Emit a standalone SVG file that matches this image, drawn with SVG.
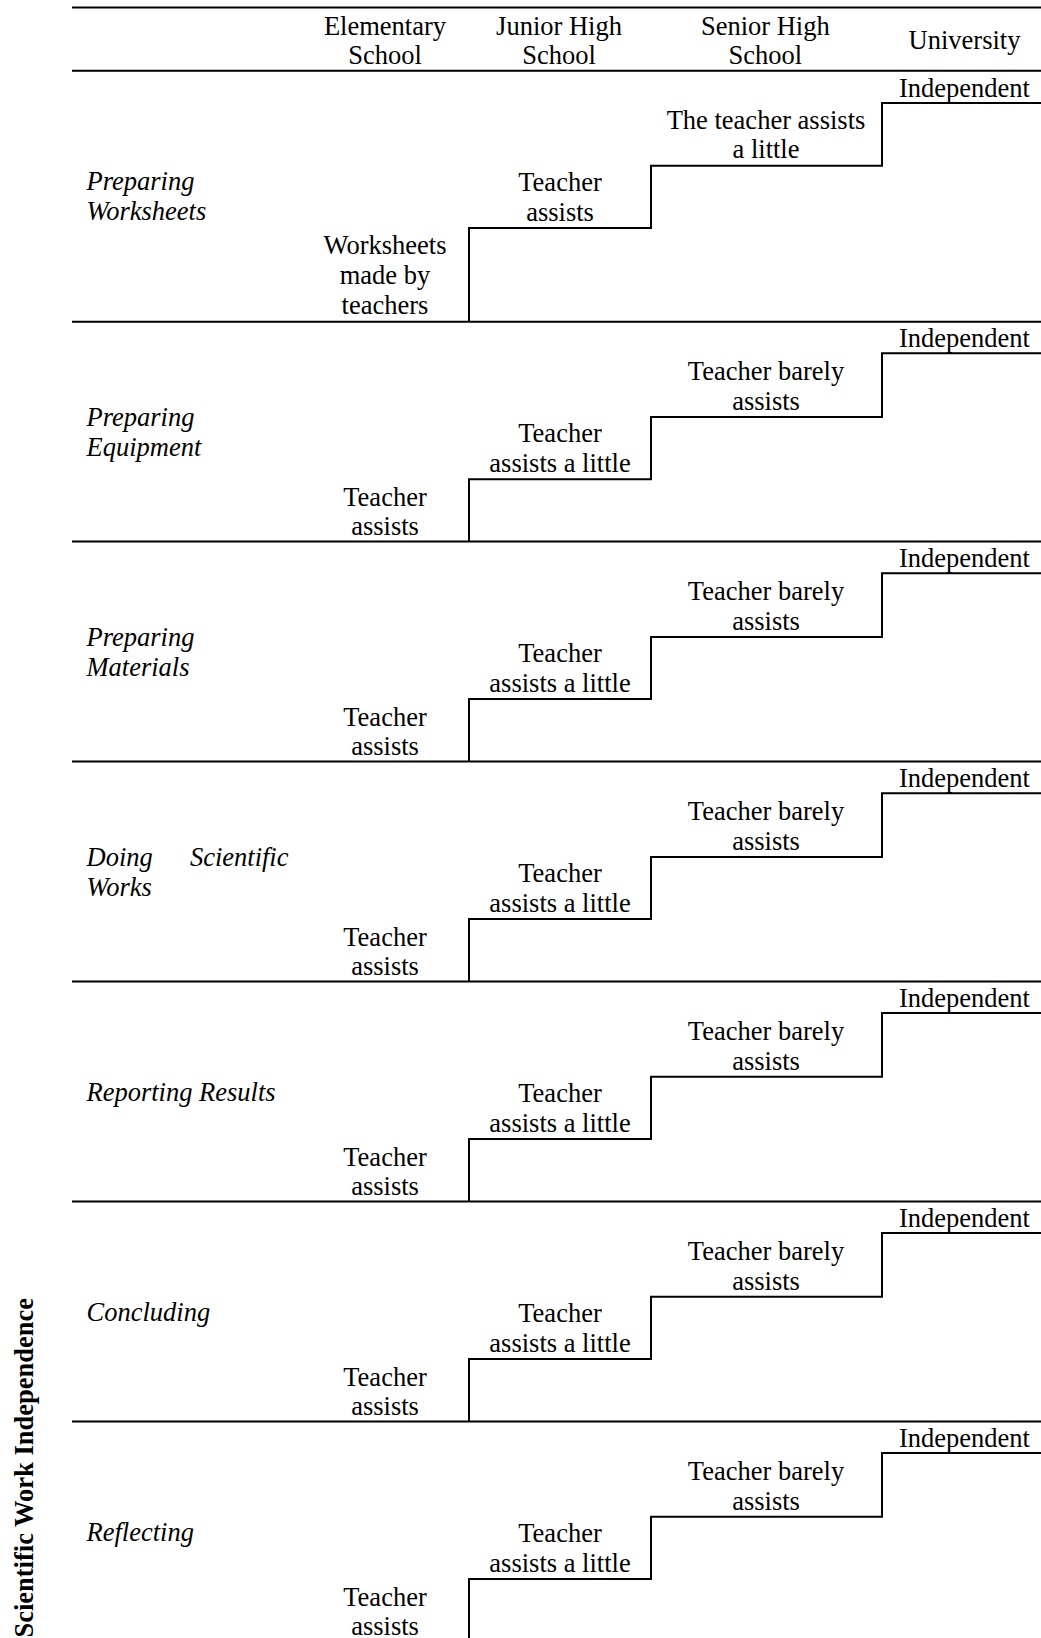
<svg xmlns="http://www.w3.org/2000/svg" width="1041" height="1638" viewBox="0 0 1041 1638">
<style>
text{font-family:"Liberation Serif","Times New Roman",serif;font-size:26.5px;fill:#000}
.c{text-anchor:middle}
.i{font-style:italic}
.rule{stroke:#000;stroke-width:2;fill:none}
.step{stroke:#000;stroke-width:2;fill:none;stroke-linejoin:miter}
.title{font-weight:bold;font-size:26.5px;text-anchor:end}
</style>
<rect width="1041" height="1638" fill="#fff"/>
<g id="connectors">
<path class="rule" d="M72 7.5H1041M72 70.7H1041M72 321.7H1041M72 541.6H1041M72 761.6H1041M72 981.5H1041M72 1201.5H1041M72 1421.5H1041"/>
<path class="step" d="M469 321.7V228H651V165.7H882V103H1041"/>
<path class="step" d="M469 541.6V479.2H651V417H882V353.3H1041"/>
<path class="step" d="M469 761.6V699.1H651V636.9H882V573.2H1041"/>
<path class="step" d="M469 981.5V919.1H651V856.9H882V793.2H1041"/>
<path class="step" d="M469 1201.5V1139H651V1076.8H882V1013.1H1041"/>
<path class="step" d="M469 1421.5V1359H651V1296.8H882V1233.1H1041"/>
<path class="step" d="M469 1640V1578.9H651V1516.8H882V1453.1H1041"/>
</g>
<g id="header">
<text class="c" x="385" y="35">Elementary</text><text class="c" x="385" y="64.3">School</text>
<text class="c" x="559" y="35">Junior High</text><text class="c" x="559" y="64.3">School</text>
<text class="c" x="765.3" y="35">Senior High</text><text class="c" x="765.3" y="64.3">School</text>
<text class="c" x="964.5" y="48.5">University</text>
</g>
<g id="title"><text class="title" transform="translate(32.5,1298) rotate(-90)">Scientific Work Independence</text></g>
<g id="row1">
<text class="i" x="86.5" y="190">Preparing</text><text class="i" x="86.5" y="220">Worksheets</text>
<text class="c" x="385" y="254">Worksheets</text><text class="c" x="385" y="284.3">made by</text><text class="c" x="385" y="314">teachers</text>
<text class="c" x="560" y="190.5">Teacher</text><text class="c" x="560" y="220.5">assists</text>
<text class="c" x="766" y="129">The teacher assists</text><text class="c" x="766" y="158.3">a little</text>
<text class="c" x="964.5" y="96.5">Independent</text>
</g>
<g id="row2">
<text class="i" x="86.5" y="426">Preparing</text><text class="i" x="86.5" y="456">Equipment</text>
<text class="c" x="385" y="505.7">Teacher</text><text class="c" x="385" y="534.7">assists</text>
<text class="c" x="560" y="441.7">Teacher</text><text class="c" x="560" y="471.7">assists a little</text>
<text class="c" x="766" y="380.2">Teacher barely</text><text class="c" x="766" y="409.7">assists</text>
<text class="c" x="964.5" y="346.7">Independent</text>
</g>
<g id="row3">
<text class="i" x="86.5" y="645.9">Preparing</text><text class="i" x="86.5" y="675.9">Materials</text>
<text class="c" x="385" y="725.6">Teacher</text><text class="c" x="385" y="754.6">assists</text>
<text class="c" x="560" y="661.6">Teacher</text><text class="c" x="560" y="691.6">assists a little</text>
<text class="c" x="766" y="600.1">Teacher barely</text><text class="c" x="766" y="629.6">assists</text>
<text class="c" x="964.5" y="566.6">Independent</text>
</g>
<g id="row4">
<text class="i" x="86.5" y="865.6">Doing</text><text class="i" x="288.5" y="865.6" text-anchor="end">Scientific</text><text class="i" x="86.5" y="895.6">Works</text>
<text class="c" x="385" y="945.6">Teacher</text><text class="c" x="385" y="974.6">assists</text>
<text class="c" x="560" y="881.6">Teacher</text><text class="c" x="560" y="911.6">assists a little</text>
<text class="c" x="766" y="820.1">Teacher barely</text><text class="c" x="766" y="849.6">assists</text>
<text class="c" x="964.5" y="786.6">Independent</text>
</g>
<g id="row5">
<text class="i" x="86.5" y="1101">Reporting Results</text>
<text class="c" x="385" y="1165.5">Teacher</text><text class="c" x="385" y="1194.5">assists</text>
<text class="c" x="560" y="1101.5">Teacher</text><text class="c" x="560" y="1131.5">assists a little</text>
<text class="c" x="766" y="1040">Teacher barely</text><text class="c" x="766" y="1069.5">assists</text>
<text class="c" x="964.5" y="1006.5">Independent</text>
</g>
<g id="row6">
<text class="i" x="86.5" y="1321">Concluding</text>
<text class="c" x="385" y="1385.5">Teacher</text><text class="c" x="385" y="1414.5">assists</text>
<text class="c" x="560" y="1321.5">Teacher</text><text class="c" x="560" y="1351.5">assists a little</text>
<text class="c" x="766" y="1260">Teacher barely</text><text class="c" x="766" y="1289.5">assists</text>
<text class="c" x="964.5" y="1226.5">Independent</text>
</g>
<g id="row7">
<text class="i" x="86.5" y="1541">Reflecting</text>
<text class="c" x="385" y="1605.5">Teacher</text><text class="c" x="385" y="1634.5">assists</text>
<text class="c" x="560" y="1541.5">Teacher</text><text class="c" x="560" y="1571.5">assists a little</text>
<text class="c" x="766" y="1480">Teacher barely</text><text class="c" x="766" y="1509.5">assists</text>
<text class="c" x="964.5" y="1446.5">Independent</text>
</g>
</svg>
